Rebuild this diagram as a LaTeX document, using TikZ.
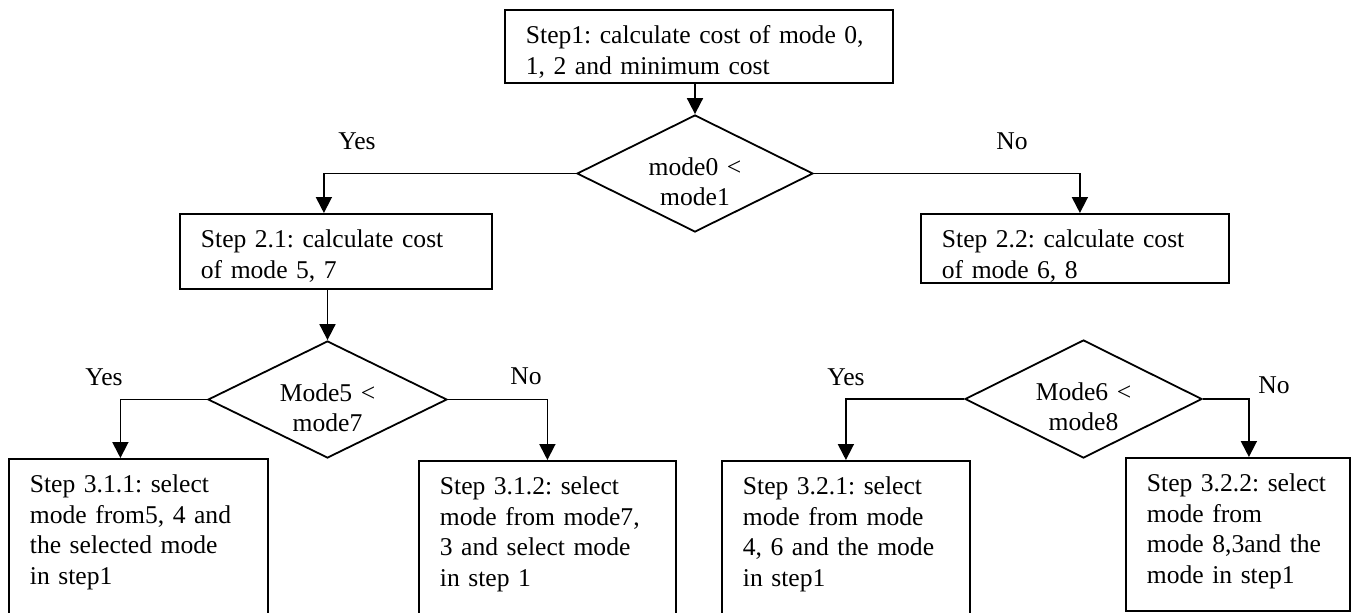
\documentclass[tikz,border=0pt]{standalone}
\usepackage{fontspec}
\setmainfont{Liberation Serif}
\usetikzlibrary{shapes.geometric,arrows.meta}
\frenchspacing
\hyphenpenalty=10000
\exhyphenpenalty=10000

\tikzset{
  stepbox/.style={draw, line width=0.9pt, rectangle, anchor=north west, align=left,
    inner xsep=10.5pt, inner ysep=4pt, text height=13pt},
  decision/.style={draw, line width=0.9pt, diamond, aspect=2, inner sep=0pt,
    text width=60pt, align=center, text height=1.5pt, text depth=0pt},
  flow/.style={line width=0.9pt, -{Triangle[length=8pt,width=8pt]}},
  answer/.style={inner sep=0pt},
}

\begin{document}
\begin{tikzpicture}[x=0.5pt,y=-0.5pt,font=\fontsize{12.8}{15.2}\selectfont]
        \useasboundingbox (0,0) rectangle (1351,612);

        % Paso 1
        \node[stepbox, text width=173pt, text depth=15.5pt] (step1) at (504,9)
            {Step1: calculate cost of mode 0,\\1, 2 and  minimum cost};
        \node[decision, minimum width=118pt, minimum height=58.5pt] (d1) at (695,173.5)
            {mode0 <\\mode1};

        % Paso 2
        \node[stepbox, text width=135pt, text depth=16.5pt] (s21) at (179,213)
            {Step 2.1: calculate cost\\of mode 5, 7};
        \node[stepbox, text width=133pt, text depth=13.5pt] (s22) at (920,213)
            {Step 2.2: calculate cost\\of mode 6, 8};

        \node[decision, minimum width=119.5pt, minimum height=58.5pt] (m5) at (327.5,399.5)
            {Mode5 <\\mode7};
        \node[decision, minimum width=118.5pt, minimum height=59pt] (m6) at (1083.5,399)
            {Mode6 <\\mode8};

        % Paso 3
        \node[stepbox, text width=108.5pt, text depth=58pt] (s311) at (8,458)
            {Step 3.1.1: select\\mode from5, 4 and\\the selected mode\\in step1};
        \node[stepbox, text width=107.5pt, text depth=57pt] (s312) at (418,460)
            {Step 3.1.2: select\\mode from mode7,\\3 and select mode\\in step 1};
        \node[stepbox, text width=103pt, text depth=57pt] (s321) at (721,460)
            {Step 3.2.1: select\\mode from mode\\4, 6 and the  mode\\in step1};
        \node[stepbox, text width=91pt, text depth=55.5pt] (s322) at (1125,457)
            {Step 3.2.2: select\\mode from\\mode 8,3and the\\mode in step1};

        % Flechas
        \draw[flow] (step1.south -| d1.north) -- (d1.north);
        \draw[flow] (d1.west) -| ([xshift=-6pt]s21.north);
        \draw[flow] (d1.east) -| ([xshift=2.5pt]s22.north);
        \draw[flow] (s21.south -| m5.north) -- (m5.north);
        \draw[flow] (m5.west) -| ([xshift=-9pt]s311.north);
        \draw[flow] (m5.east) -| (s312.north);
        \draw[flow] (m6.west) -| (s321.north);
        \draw[flow] (m6.east) -| ([xshift=5.5pt]s322.north);

        % Si / No
        \node[answer] (yes1) at (357,141) {Yes};
        \node[answer] (no1) at (1012,141) {No};
        \node[answer] (yes2) at (104,377) {Yes};
        \node[answer] (no2) at (526,376) {No};
        \node[answer] (yes3) at (846,377) {Yes};
        \node[answer] (no3) at (1274,385) {No};
\end{tikzpicture}
\end{document}
